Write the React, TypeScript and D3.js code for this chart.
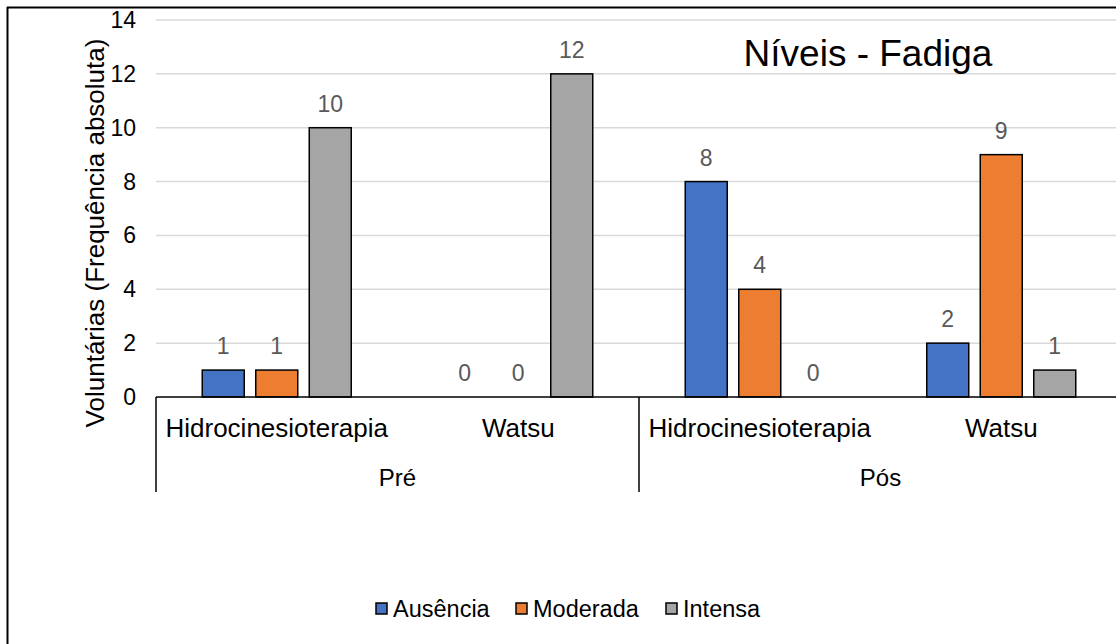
import React from "react";
import * as d3 from "d3";

const groups = ["Pré", "Pós"];
const subCategories = ["Hidrocinesioterapia", "Watsu"];
const categories = ["Pré|Hidrocinesioterapia", "Pré|Watsu", "Pós|Hidrocinesioterapia", "Pós|Watsu"];
const seriesNames = ["Ausência", "Moderada", "Intensa"];
const seriesColors = ["#4472C4", "#ED7D31", "#A5A5A5"];
const ausencia = [1, 0, 8, 2];
const moderada = [1, 0, 4, 9];
const intensa = [10, 12, 0, 1];
const yTicks = [0, 2, 4, 6, 8, 10, 12, 14];
const title = "Níveis - Fadiga";
const yTitle = "Voluntárias (Frequência absoluta)";

const seriesValues = [ausencia, moderada, intensa];

const W = 1116;
const H = 644;
const FONT = "Liberation Sans, Arial, sans-serif";

export default function App() {
  const x0 = 156;
  const x1 = 156 + 4 * 241.5;
  const yBase = 397;
  const yTop = 20;
  const x = d3.scaleBand<string>().domain(categories).range([x0, x1]).padding(0);
  const y = d3.scaleLinear().domain([0, 14]).range([yBase, yTop]);
  const inner = d3
    .scaleBand<string>()
    .domain(seriesNames)
    .range([-80.25, 80.25])
    .paddingInner(0.215)
    .paddingOuter(0.1075);

  const groupScale = d3.scaleBand<string>().domain(groups).range([x0, x1]);

  return (
    <svg
      width={W}
      height={H}
      style={{ position: "absolute", left: 0, top: 0, background: "#fff" }}
      fontFamily={FONT}
    >
      <rect x={0} y={0} width={W} height={H} fill="#fff" />
      {/* border */}
      <line x1={7.5} y1={7} x2={7.5} y2={H} stroke="#000" strokeWidth={2} />
      <line x1={7} y1={7.5} x2={W} y2={7.5} stroke="#000" strokeWidth={2} />

      {/* gridlines */}
      {yTicks.filter((t) => t > 0).map((t) => (
        <line key={t} x1={x0} x2={W} y1={y(t)} y2={y(t)} stroke="#d9d9d9" strokeWidth={1.5} />
      ))}
      {/* y tick labels */}
      {yTicks.map((t) => (
        <text key={t} x={136} y={y(t) + 8} textAnchor="end" fontSize={23} fill="#000">
          {t}
        </text>
      ))}
      {/* y title */}
      <text
        transform={`translate(104, ${233}) rotate(-90)`}
        textAnchor="middle"
        fontSize={26}
        fill="#000"
      >
        {yTitle}
      </text>

      {/* bars */}
      {categories.map((c, ci) => {
        const cx = (x(c) as number) + x.bandwidth() / 2;
        return seriesNames.map((s, si) => {
          const v = seriesValues[si][ci];
          const bx = cx + (inner(s) as number);
          const bw = inner.bandwidth();
          return (
            <g key={c + s}>
              {v > 0 && (
                <rect
                  x={bx}
                  y={y(v)}
                  width={bw}
                  height={yBase - y(v)}
                  fill={seriesColors[si]}
                  stroke="#000"
                  strokeWidth={1.5}
                />
              )}
              <text
                x={bx + bw / 2}
                y={y(v) - 16}
                textAnchor="middle"
                fontSize={23}
                fill="#595959"
              >
                {v}
              </text>
            </g>
          );
        });
      })}

      {/* x axis */}
      <line x1={x0} x2={W} y1={yBase} y2={yBase} stroke="#000" strokeWidth={1.5} />
      {groups.map((g) => (
        <line
          key={g}
          x1={groupScale(g) as number}
          x2={groupScale(g) as number}
          y1={yBase}
          y2={492}
          stroke="#000"
          strokeWidth={1.5}
        />
      ))}
      {categories.map((c, ci) => (
        <text
          key={c}
          x={(x(c) as number) + x.bandwidth() / 2}
          y={437}
          textAnchor="middle"
          fontSize={26}
          fill="#000"
        >
          {subCategories[ci % 2]}
        </text>
      ))}
      {groups.map((g) => (
        <text
          key={g}
          x={(groupScale(g) as number) + groupScale.bandwidth() / 2}
          y={486}
          textAnchor="middle"
          fontSize={24}
          fill="#000"
        >
          {g}
        </text>
      ))}

      {/* title */}
      <text x={868} y={66} textAnchor="middle" fontSize={37} fill="#000">
        {title}
      </text>

      {/* legend */}
      {seriesNames.map((s, i) => {
        const lx = [376, 516, 666][i];
        return (
          <g key={s}>
            <rect x={lx} y={603} width={11} height={11} fill={seriesColors[i]} stroke="#000" strokeWidth={1.5} />
            <text x={lx + 17} y={617} fontSize={23.5} fill="#000">
              {s}
            </text>
          </g>
        );
      })}
    </svg>
  );
}
